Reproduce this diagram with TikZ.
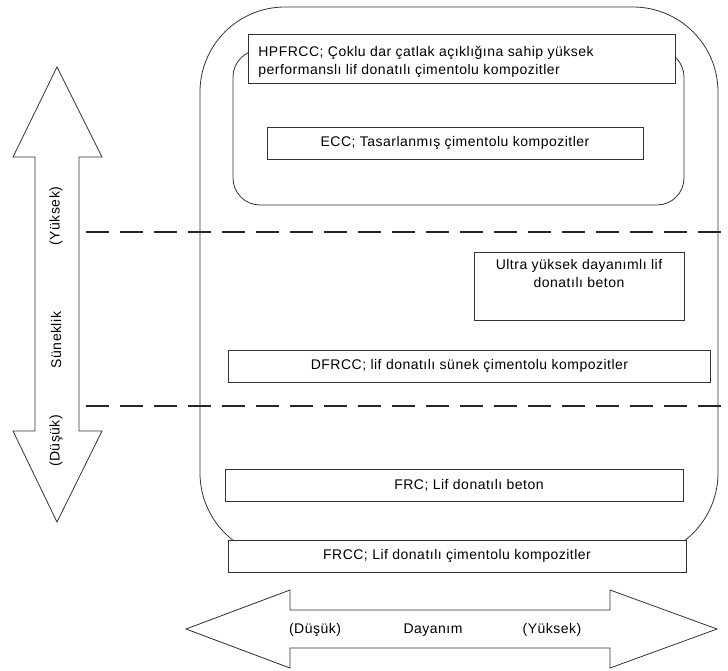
\documentclass[tikz,border=0pt]{standalone}
\usepackage{fontspec}
\setmainfont{Liberation Sans}[LetterSpace=3.5]
\definecolor{linegray}{HTML}{333333}
\begin{document}
\begin{tikzpicture}[x=1pt,y=-1pt,
  line width=0.8pt,
  boxline/.style={draw=linegray, line width=0.8pt},
  txtbox/.style={boxline, fill=white, inner sep=0pt},
  lbl/.style={inner sep=0pt, font=\fontsize{14}{18}\selectfont, text=black},
  divider/.style={draw=black!85, line width=2.8pt, dash pattern=on 23pt off 11pt},
  bigarrow/.style={draw=linegray, line width=0.8pt, fill=white, line join=miter}
]
\useasboundingbox (0,0) rectangle (728,670);

% outer rounded container
\draw[boxline, rounded corners=85pt] (200,7) rectangle (718,558);
% inner rounded container
\draw[boxline, rounded corners=27pt] (233,50) rectangle (684,205);

% boxes
\node[txtbox, minimum width=427pt, minimum height=49pt] (hp) at (461.5,58.5) {};
\node[lbl, anchor=west, align=left] (hpt) at (258,61.5) {HPFRCC; Çoklu dar çatlak açıklığına sahip yüksek\\performanslı lif donatılı çimentolu kompozitler};

\node[txtbox, minimum width=376pt, minimum height=32pt] (ecc) at (455,143) {};
\node[lbl] (ecct) at (ecc.center) {ECC; Tasarlanmış çimentolu kompozitler};

\node[txtbox, minimum width=210pt, minimum height=68pt] (uh) at (579,286) {};
\node[lbl, align=center, anchor=north] (uht) at (579,259) {Ultra yüksek dayanımlı lif\\donatılı beton};

\node[txtbox, minimum width=482pt, minimum height=32pt] (df) at (469.5,366) {};
\node[lbl] (dft) at (df.center) {DFRCC; lif donatılı sünek çimentolu kompozitler};

\node[txtbox, minimum width=458pt, minimum height=32pt] (frc) at (454,485) {};
\node[lbl] (frct) at (469,485) {FRC; Lif donatılı beton};

\node[txtbox, minimum width=458pt, minimum height=32pt] (frcc) at (457,556) {};
\node[lbl] (frcct) at (frcc.center) {FRCC; Lif donatılı çimentolu kompozitler};

% dashed dividers
\coordinate (d1a) at (86,232);
\coordinate (d1b) at (728,232);
\coordinate (d2a) at (86,406);
\coordinate (d2b) at (728,406);
\draw[divider] (d1a) -- (d1b);
\draw[divider] (d2a) -- (d2b);

% vertical double arrow (Süneklik)
\draw[bigarrow] (57,67) -- (102,157) -- (79,157) -- (79,431) -- (102,431) -- (57,522)
  -- (13,431) -- (35,431) -- (35,157) -- (13,157) -- cycle;
\node[lbl, rotate=90] (vy) at (56,216) {(Yüksek)};
\node[lbl, rotate=90] (vs) at (56,340) {Süneklik};
\node[lbl, rotate=90] (vd) at (56,441) {(Düşük)};

% horizontal double arrow (Dayanım)
\draw[bigarrow] (186,629) -- (290,590) -- (290,610) -- (610,610) -- (610,590) -- (717,629)
  -- (610,668) -- (610,648) -- (290,648) -- (290,668) -- cycle;
\node[lbl] (hd) at (315,630) {(Düşük)};
\node[lbl] (hm) at (433,630) {Dayanım};
\node[lbl] (hy) at (552,630) {(Yüksek)};
\end{tikzpicture}
\end{document}
